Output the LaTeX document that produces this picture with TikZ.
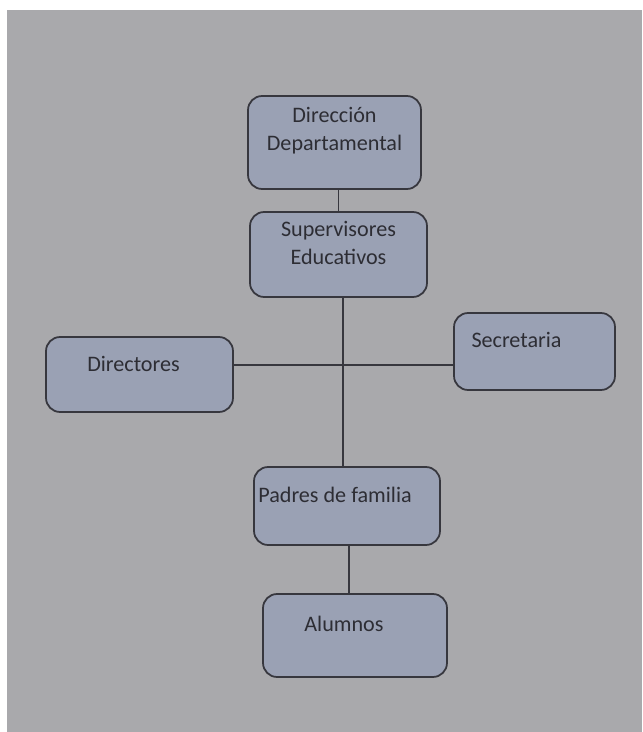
\documentclass[tikz,border=0pt]{standalone}
\usepackage{fontspec}
\setmainfont{Carlito}
\usetikzlibrary{positioning}
\definecolor{paper}{RGB}{169,169,172}
\definecolor{boxfill}{RGB}{154,161,180}
\definecolor{ink}{RGB}{55,55,62}
\definecolor{word}{RGB}{45,45,52}

\begin{document}
\begin{tikzpicture}
[x = 0.02cm, y = -0.02cm, % pixel-like units
line width=1pt, % line style
every node/.style={font=\fontsize{12.6pt}{14pt}\selectfont, text=word},
box/.style={draw=ink, fill=boxfill, rounded corners=8pt, inner sep=0pt},
lbl/.style={anchor=north, align=center}]
% background paper
\fill[white] (0,0) rectangle (642,732);
\fill[paper] (7,10) rectangle (642,732);
\node[box, minimum width=3.46cm, minimum height=1.86cm,
  label={[lbl, yshift=-0.1cm]north:Dirección\\[2pt]Departamental}] (dir) at (334.5,142.5) {};
\node[box, minimum width=3.54cm, minimum height=1.7cm,
  label={[lbl, yshift=-0.06cm]north:Supervisores\\[2pt]Educativos}] (sup) at (338.5,254.5) {};
\node[box, minimum width=3.74cm, minimum height=1.5cm,
  label={[lbl, yshift=-0.27cm, xshift=-0.12cm]north:Directores}] (dtr) at (139.5,374.5) {};
\node[box, minimum width=3.22cm, minimum height=1.54cm,
  label={[lbl, yshift=-0.27cm, xshift=-0.36cm]north:Secretaria}] (sec) at (534.5,351.5) {};
\node[box, minimum width=3.72cm, minimum height=1.56cm,
  label={[lbl, yshift=-0.28cm, xshift=-0.24cm]north:Padres de familia}] (pad) at (347,506) {};
\node[box, minimum width=3.68cm, minimum height=1.66cm,
  label={[lbl, yshift=-0.32cm, xshift=-0.22cm]north:Alumnos}] (alu) at (355,635.5) {};
% connectors
\coordinate (trunk) at (343,0);
\coordinate (hbar) at (0,365);
\coordinate (low) at (349,0);
\draw[ink] (sup.north) -- (sup.north |- dir.south);
\draw[ink] (sup.south -| trunk) -- (pad.north -| trunk);
\draw[ink] (dtr.east |- hbar) -- (sec.west |- hbar);
\draw[ink] (pad.south -| low) -- (alu.north -| low);
\end{tikzpicture}
\end{document}
